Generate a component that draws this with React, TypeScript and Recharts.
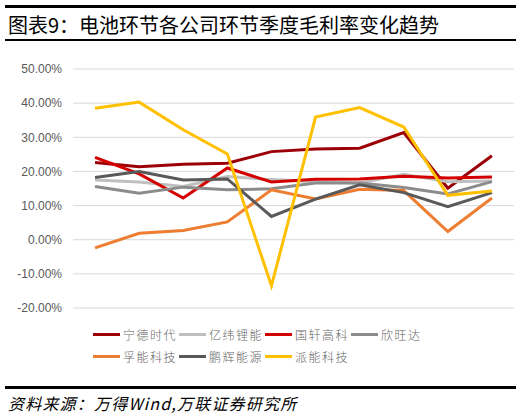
import { LineChart, Line, XAxis, YAxis, CartesianGrid } from "recharts";

const quarters = [
  "2022Q4", "2023Q1", "2023Q2", "2023Q3", "2023Q4",
  "2024Q1", "2024Q2", "2024Q3", "2024Q4", "2025Q1",
];

const catl = [22.6, 21.4, 22.1, 22.4, 25.8, 26.6, 26.8, 31.4, 15.1, 24.6];
const eve = [17.5, 16.9, 15.6, 18.5, 17.6, 17.0, 16.6, 19.2, 17.0, 17.2];
const gotion = [24.1, 19.3, 12.2, 21.0, 16.9, 17.7, 17.8, 18.6, 18.1, 18.4];
const sunwoda = [15.6, 13.6, 15.4, 14.6, 14.9, 16.6, 16.6, 15.3, 13.4, 17.0];
const farasis = [-2.4, 1.9, 2.7, 5.2, 14.6, 11.9, 14.8, 14.4, 2.4, 12.2];
const greatPower = [18.2, 20.0, 17.5, 17.8, 6.8, 11.9, 16.1, 13.8, 9.7, 13.8];
const pylon = [38.5, 40.3, 32.2, 25.1, -13.5, 35.9, 38.7, 33.0, 13.0, 14.3];

const yTicks = [-20, -10, 0, 10, 20, 30, 40, 50];

const SERIES = [
  { name: "宁德时代", color: "#9C0006", values: catl },
  { name: "亿纬锂能", color: "#BFBFBF", values: eve },
  { name: "国轩高科", color: "#D40000", values: gotion },
  { name: "欣旺达", color: "#8C8C8C", values: sunwoda },
  { name: "孚能科技", color: "#ED7D31", values: farasis },
  { name: "鹏辉能源", color: "#595959", values: greatPower },
  { name: "派能科技", color: "#FFC000", values: pylon },
];

const data = quarters.map((q, i) => {
  const row: Record<string, string | number> = { quarter: q };
  SERIES.forEach((s) => {
    row[s.name] = s.values[i];
  });
  return row;
});

const W = 531;
const H = 418;
const PLOT_LEFT = 73;
const PLOT_RIGHT = 514;
const PLOT_TOP = 69;
const PLOT_BOTTOM = 308;
const Y_MIN = -20;
const Y_MAX = 50;
const ZERO_Y = PLOT_TOP + (Y_MAX / (Y_MAX - Y_MIN)) * (PLOT_BOTTOM - PLOT_TOP);
const HALF_BAND = (PLOT_RIGHT - PLOT_LEFT) / quarters.length / 2;

const AXIS_GRAY = "#595959";
const GRID = "#D9D9D9";

// x labels sit on the 0% line, not at the bottom of the plot
function QuarterTick(props: any) {
  const { x, y, payload, index } = props;
  const shift = ZERO_Y - y;
  const last = index === quarters.length - 1;
  return (
    <g transform={`translate(0, ${shift})`}>
      <line x1={x - HALF_BAND} x2={x - HALF_BAND} y1={y} y2={y + 4} stroke="#BFBFBF" />
      {last && (
        <line x1={x + HALF_BAND} x2={x + HALF_BAND} y1={y} y2={y + 4} stroke="#BFBFBF" />
      )}
      <text
        x={x}
        y={y + 19}
        textAnchor="middle"
        fontSize={12}
        fontFamily="'Liberation Sans', Arial, sans-serif"
        fill={AXIS_GRAY}
      >
        {payload.value}
      </text>
    </g>
  );
}

function App() {
  return (
    <div
      style={{
        position: "absolute",
        left: 0,
        top: 0,
        width: W,
        height: H,
        background: "#fff",
        fontFamily: "'Noto Sans CJK SC', sans-serif",
      }}
    >
      <div style={{ position: "absolute", left: 5, top: 5, width: 511, height: 3, background: "#000" }} />
      <div
        style={{
          position: "absolute",
          left: 8,
          top: 11,
          fontSize: 20,
          lineHeight: "27px",
          color: "#000",
          whiteSpace: "nowrap",
        }}
      >
        图表9：电池环节各公司环节季度毛利率变化趋势
      </div>
      <div style={{ position: "absolute", left: 5, top: 39, width: 511, height: 2, background: "#000" }} />

      <div style={{ position: "absolute", left: 0, top: 0 }}>
        <LineChart
          width={W}
          height={H}
          data={data}
          margin={{ top: PLOT_TOP, right: W - PLOT_RIGHT, left: 0, bottom: H - PLOT_BOTTOM }}
        >
          <CartesianGrid horizontal vertical={false} stroke={GRID} />
          <XAxis
            dataKey="quarter"
            height={0}
            axisLine={false}
            tickLine={false}
            tickSize={0}
            tickMargin={0}
            interval={0}
            padding={{ left: HALF_BAND, right: HALF_BAND }}
            tick={<QuarterTick />}
          />
          <YAxis
            width={PLOT_LEFT}
            domain={[Y_MIN, Y_MAX]}
            ticks={yTicks}
            axisLine={false}
            tickLine={false}
            tickSize={0}
            tickMargin={11}
            tickFormatter={(v: number) => `${v.toFixed(2)}%`}
            tick={{
              fontSize: 12,
              fill: AXIS_GRAY,
              fontFamily: "'Liberation Sans', Arial, sans-serif",
            }}
          />
          {SERIES.map((s) => (
            <Line
              key={s.name}
              type="linear"
              dataKey={s.name}
              stroke={s.color}
              strokeWidth={3}
              dot={false}
              activeDot={false}
              isAnimationActive={false}
            />
          ))}
        </LineChart>
      </div>

      <div
        style={{
          position: "absolute",
          left: 93,
          top: 323,
          width: 350,
          display: "flex",
          flexWrap: "wrap",
        }}
      >
        {SERIES.map((s) => (
          <div
            key={s.name}
            style={{ width: 86, height: 22, display: "flex", alignItems: "center" }}
          >
            <span
              style={{ display: "inline-block", width: 27, height: 3, background: s.color }}
            />
            <span
              style={{
                marginLeft: 3,
                fontSize: 12,
                fontWeight: 300,
                letterSpacing: 1.5,
                color: "#666666",
                whiteSpace: "nowrap",
              }}
            >
              {s.name}
            </span>
          </div>
        ))}
      </div>

      <div style={{ position: "absolute", left: 5, top: 386, width: 511, height: 3, background: "#000" }} />
      <div
        style={{
          position: "absolute",
          left: 8,
          top: 392,
          fontSize: 16,
          lineHeight: "22px",
          fontStyle: "italic",
          letterSpacing: 1.2,
          color: "#000",
          whiteSpace: "nowrap",
        }}
      >
        资料来源：万得Wind,万联证券研究所
      </div>
    </div>
  );
}

export default App;
